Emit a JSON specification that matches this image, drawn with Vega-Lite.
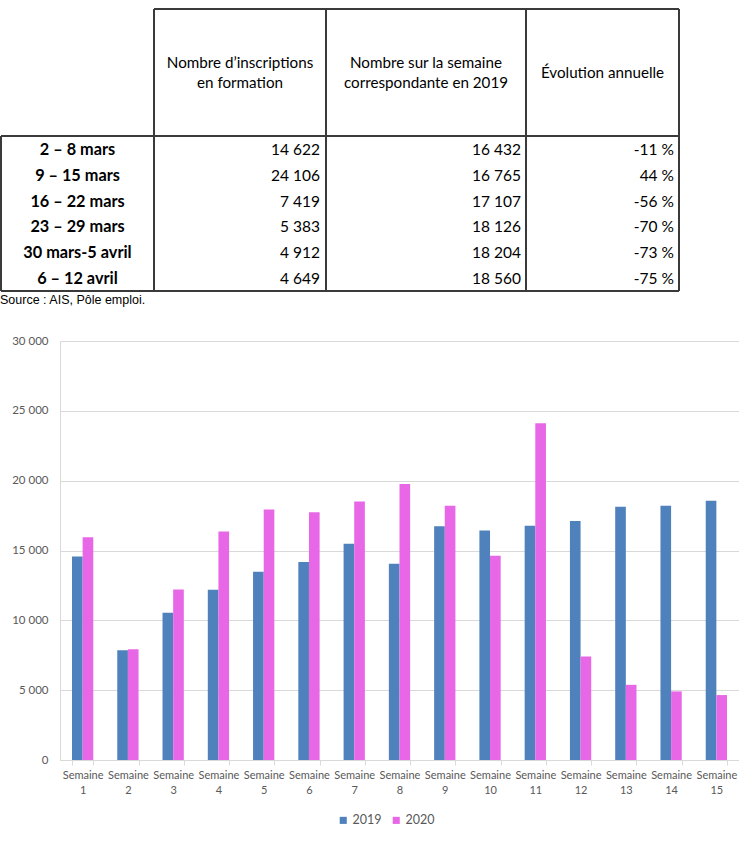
{
  "$schema": "https://vega.github.io/schema/vega-lite/v6.json",
  "background": "white",
  "padding": {"left": 0, "top": 8, "right": 0, "bottom": 0},
  "spacing": 28,
  "config": {"view": {"stroke": null}},
  "datasets": {
    "tableau": [
      {"row": 1, "periode": "2 – 8 mars", "inscriptions": "14 622", "semaine2019": "16 432", "evolution": "-11 %"},
      {"row": 2, "periode": "9 – 15 mars", "inscriptions": "24 106", "semaine2019": "16 765", "evolution": "44 %"},
      {"row": 3, "periode": "16 – 22 mars", "inscriptions": "7 419", "semaine2019": "17 107", "evolution": "-56 %"},
      {"row": 4, "periode": "23 – 29 mars", "inscriptions": "5 383", "semaine2019": "18 126", "evolution": "-70 %"},
      {"row": 5, "periode": "30 mars-5 avril", "inscriptions": "4 912", "semaine2019": "18 204", "evolution": "-73 %"},
      {"row": 6, "periode": "6 – 12 avril", "inscriptions": "4 649", "semaine2019": "18 560", "evolution": "-75 %"}
    ],
    "grille": [
      {"x": 1, "x2": 4, "y": -4.5, "y2": -4.5},
      {"x": 0, "x2": 4, "y": 0.5, "y2": 0.5},
      {"x": 0, "x2": 4, "y": 6.5, "y2": 6.5},
      {"x": 0, "x2": 0, "y": 0.5, "y2": 6.5},
      {"x": 1, "x2": 1, "y": -4.5, "y2": 6.5},
      {"x": 2, "x2": 2, "y": -4.5, "y2": 6.5},
      {"x": 3, "x2": 3, "y": -4.5, "y2": 6.5},
      {"x": 4, "x2": 4, "y": -4.5, "y2": 6.5}
    ],
    "semaines": [
      {"semaine": 1, "annee": "2019", "valeur": 14570},
      {"semaine": 1, "annee": "2020", "valeur": 15950},
      {"semaine": 2, "annee": "2019", "valeur": 7860},
      {"semaine": 2, "annee": "2020", "valeur": 7930},
      {"semaine": 3, "annee": "2019", "valeur": 10550},
      {"semaine": 3, "annee": "2020", "valeur": 12210},
      {"semaine": 4, "annee": "2019", "valeur": 12190},
      {"semaine": 4, "annee": "2020", "valeur": 16360},
      {"semaine": 5, "annee": "2019", "valeur": 13480},
      {"semaine": 5, "annee": "2020", "valeur": 17930},
      {"semaine": 6, "annee": "2019", "valeur": 14170},
      {"semaine": 6, "annee": "2020", "valeur": 17740},
      {"semaine": 7, "annee": "2019", "valeur": 15480},
      {"semaine": 7, "annee": "2020", "valeur": 18500},
      {"semaine": 8, "annee": "2019", "valeur": 14050},
      {"semaine": 8, "annee": "2020", "valeur": 19760},
      {"semaine": 9, "annee": "2019", "valeur": 16740},
      {"semaine": 9, "annee": "2020", "valeur": 18210},
      {"semaine": 10, "annee": "2019", "valeur": 16432},
      {"semaine": 10, "annee": "2020", "valeur": 14622},
      {"semaine": 11, "annee": "2019", "valeur": 16765},
      {"semaine": 11, "annee": "2020", "valeur": 24106},
      {"semaine": 12, "annee": "2019", "valeur": 17107},
      {"semaine": 12, "annee": "2020", "valeur": 7419},
      {"semaine": 13, "annee": "2019", "valeur": 18126},
      {"semaine": 13, "annee": "2020", "valeur": 5383},
      {"semaine": 14, "annee": "2019", "valeur": 18204},
      {"semaine": 14, "annee": "2020", "valeur": 4912},
      {"semaine": 15, "annee": "2019", "valeur": 18560},
      {"semaine": 15, "annee": "2020", "valeur": 4649}
    ]
  },
  "vconcat": [
    {
      "width": 619,
      "height": 282,
      "title": {
        "text": "Source : AIS, Pôle emploi.",
        "orient": "bottom",
        "anchor": "start",
        "font": "Liberation Sans",
        "fontSize": 12.5,
        "fontWeight": "normal",
        "color": "black",
        "offset": 2
      },
      "layer": [
        {
          "data": {"name": "grille"},
          "mark": {"type": "rule", "strokeWidth": 2, "color": "#3a3a3a"},
          "encoding": {
            "x": {"field": "x", "type": "quantitative", "axis": null,
                  "scale": {"domain": [0, 1, 2, 3, 4], "range": [-59, 94, 266, 466, 619], "nice": false, "zero": false}},
            "x2": {"field": "x2"},
            "y": {"field": "y", "type": "quantitative", "axis": null,
                  "scale": {"domain": [-4.5, 0.5, 6.5], "range": [0, 127, 282], "nice": false, "zero": false}},
            "y2": {"field": "y2"}
          }
        },
        {
          "data": {"name": "tableau"},
          "mark": {"type": "text", "font": "Lato", "fontSize": 16.3, "fontWeight": "bold", "align": "center", "baseline": "middle", "dy": 1, "color": "black"},
          "encoding": {
            "x": {"datum": 0.5, "type": "quantitative"},
            "y": {"field": "row", "type": "quantitative"},
            "text": {"field": "periode"}
          }
        },
        {
          "data": {"name": "tableau"},
          "mark": {"type": "text", "font": "Lato", "fontSize": 15.5, "align": "right", "baseline": "middle", "dx": -6, "dy": 1, "color": "black"},
          "encoding": {
            "x": {"datum": 2, "type": "quantitative"},
            "y": {"field": "row", "type": "quantitative"},
            "text": {"field": "inscriptions"}
          }
        },
        {
          "data": {"name": "tableau"},
          "mark": {"type": "text", "font": "Lato", "fontSize": 15.5, "align": "right", "baseline": "middle", "dx": -5, "dy": 1, "color": "black"},
          "encoding": {
            "x": {"datum": 3, "type": "quantitative"},
            "y": {"field": "row", "type": "quantitative"},
            "text": {"field": "semaine2019"}
          }
        },
        {
          "data": {"name": "tableau"},
          "mark": {"type": "text", "font": "Lato", "fontSize": 15.5, "align": "right", "baseline": "middle", "dx": -5, "dy": 1, "color": "black"},
          "encoding": {
            "x": {"datum": 4, "type": "quantitative"},
            "y": {"field": "row", "type": "quantitative"},
            "text": {"field": "evolution"}
          }
        },
        {
          "data": {"values": [{"c": 1}]},
          "mark": {"type": "text", "font": "Lato", "fontSize": 15.2, "align": "center", "baseline": "middle", "lineHeight": 20, "lineBreak": "\n", "dy": -10, "color": "black"},
          "encoding": {
            "x": {"datum": 1.5, "type": "quantitative"},
            "y": {"datum": -2, "type": "quantitative"},
            "text": {"value": "Nombre d’inscriptions\nen formation"}
          }
        },
        {
          "data": {"values": [{"c": 2}]},
          "mark": {"type": "text", "font": "Lato", "fontSize": 15.2, "align": "center", "baseline": "middle", "lineHeight": 20, "lineBreak": "\n", "dy": -10, "color": "black"},
          "encoding": {
            "x": {"datum": 2.5, "type": "quantitative"},
            "y": {"datum": -2, "type": "quantitative"},
            "text": {"value": "Nombre sur la semaine\ncorrespondante en 2019"}
          }
        },
        {
          "data": {"values": [{"c": 3}]},
          "mark": {"type": "text", "font": "Lato", "fontSize": 15.2, "align": "center", "baseline": "middle", "color": "black"},
          "encoding": {
            "x": {"datum": 3.5, "type": "quantitative"},
            "y": {"datum": -2, "type": "quantitative"},
            "text": {"value": "Évolution annuelle"}
          }
        }
      ]
    },
    {
      "width": 679,
      "height": 419,
      "data": {"name": "semaines"},
      "mark": {"type": "bar"},
      "encoding": {
        "x": {
          "field": "semaine",
          "type": "ordinal",
          "scale": {"paddingInner": 0.53, "paddingOuter": 0.265},
          "axis": {
            "title": null,
            "labelExpr": "datum.label == '' ? '' : ['Semaine', datum.label]",
            "labelAngle": 0,
            "labelFont": "Lato",
            "labelFontSize": 11,
            "labelColor": "#595959",
            "labelLineHeight": 15,
            "labelPadding": 4,
            "domainColor": "#d9d9d9",
            "tickColor": "#d9d9d9",
            "tickSize": 5,
            "tickBand": "extent",
            "grid": false
          }
        },
        "xOffset": {"field": "annee", "type": "nominal", "scale": {"paddingInner": 0, "paddingOuter": 0}},
        "y": {
          "field": "valeur",
          "type": "quantitative",
          "scale": {"domain": [0, 30000], "nice": false},
          "axis": {
            "title": null,
            "values": [0, 5000, 10000, 15000, 20000, 25000, 30000],
            "labelExpr": "replace(format(datum.value, ','), ',', ' ')",
            "labelFont": "Lato",
            "labelFontSize": 11.5,
            "labelColor": "#595959",
            "labelPadding": 12,
            "ticks": false,
            "tickSize": 0,
            "domainColor": "#d9d9d9",
            "gridColor": "#d9d9d9",
            "minExtent": 60,
            "maxExtent": 60
          }
        },
        "color": {
          "field": "annee",
          "type": "nominal",
          "scale": {"domain": ["2019", "2020"], "range": ["#4F81BD", "#E767E6"]},
          "legend": {
            "title": null,
            "orient": "none",
            "legendX": 277,
            "legendY": 805,
            "direction": "horizontal",
            "symbolType": "square",
            "symbolSize": 50,
            "labelOffset": 3,
            "labelFont": "Lato",
            "labelFontSize": 12.5,
            "labelColor": "#595959",
            "columnPadding": 8
          }
        }
      }
    }
  ]
}
